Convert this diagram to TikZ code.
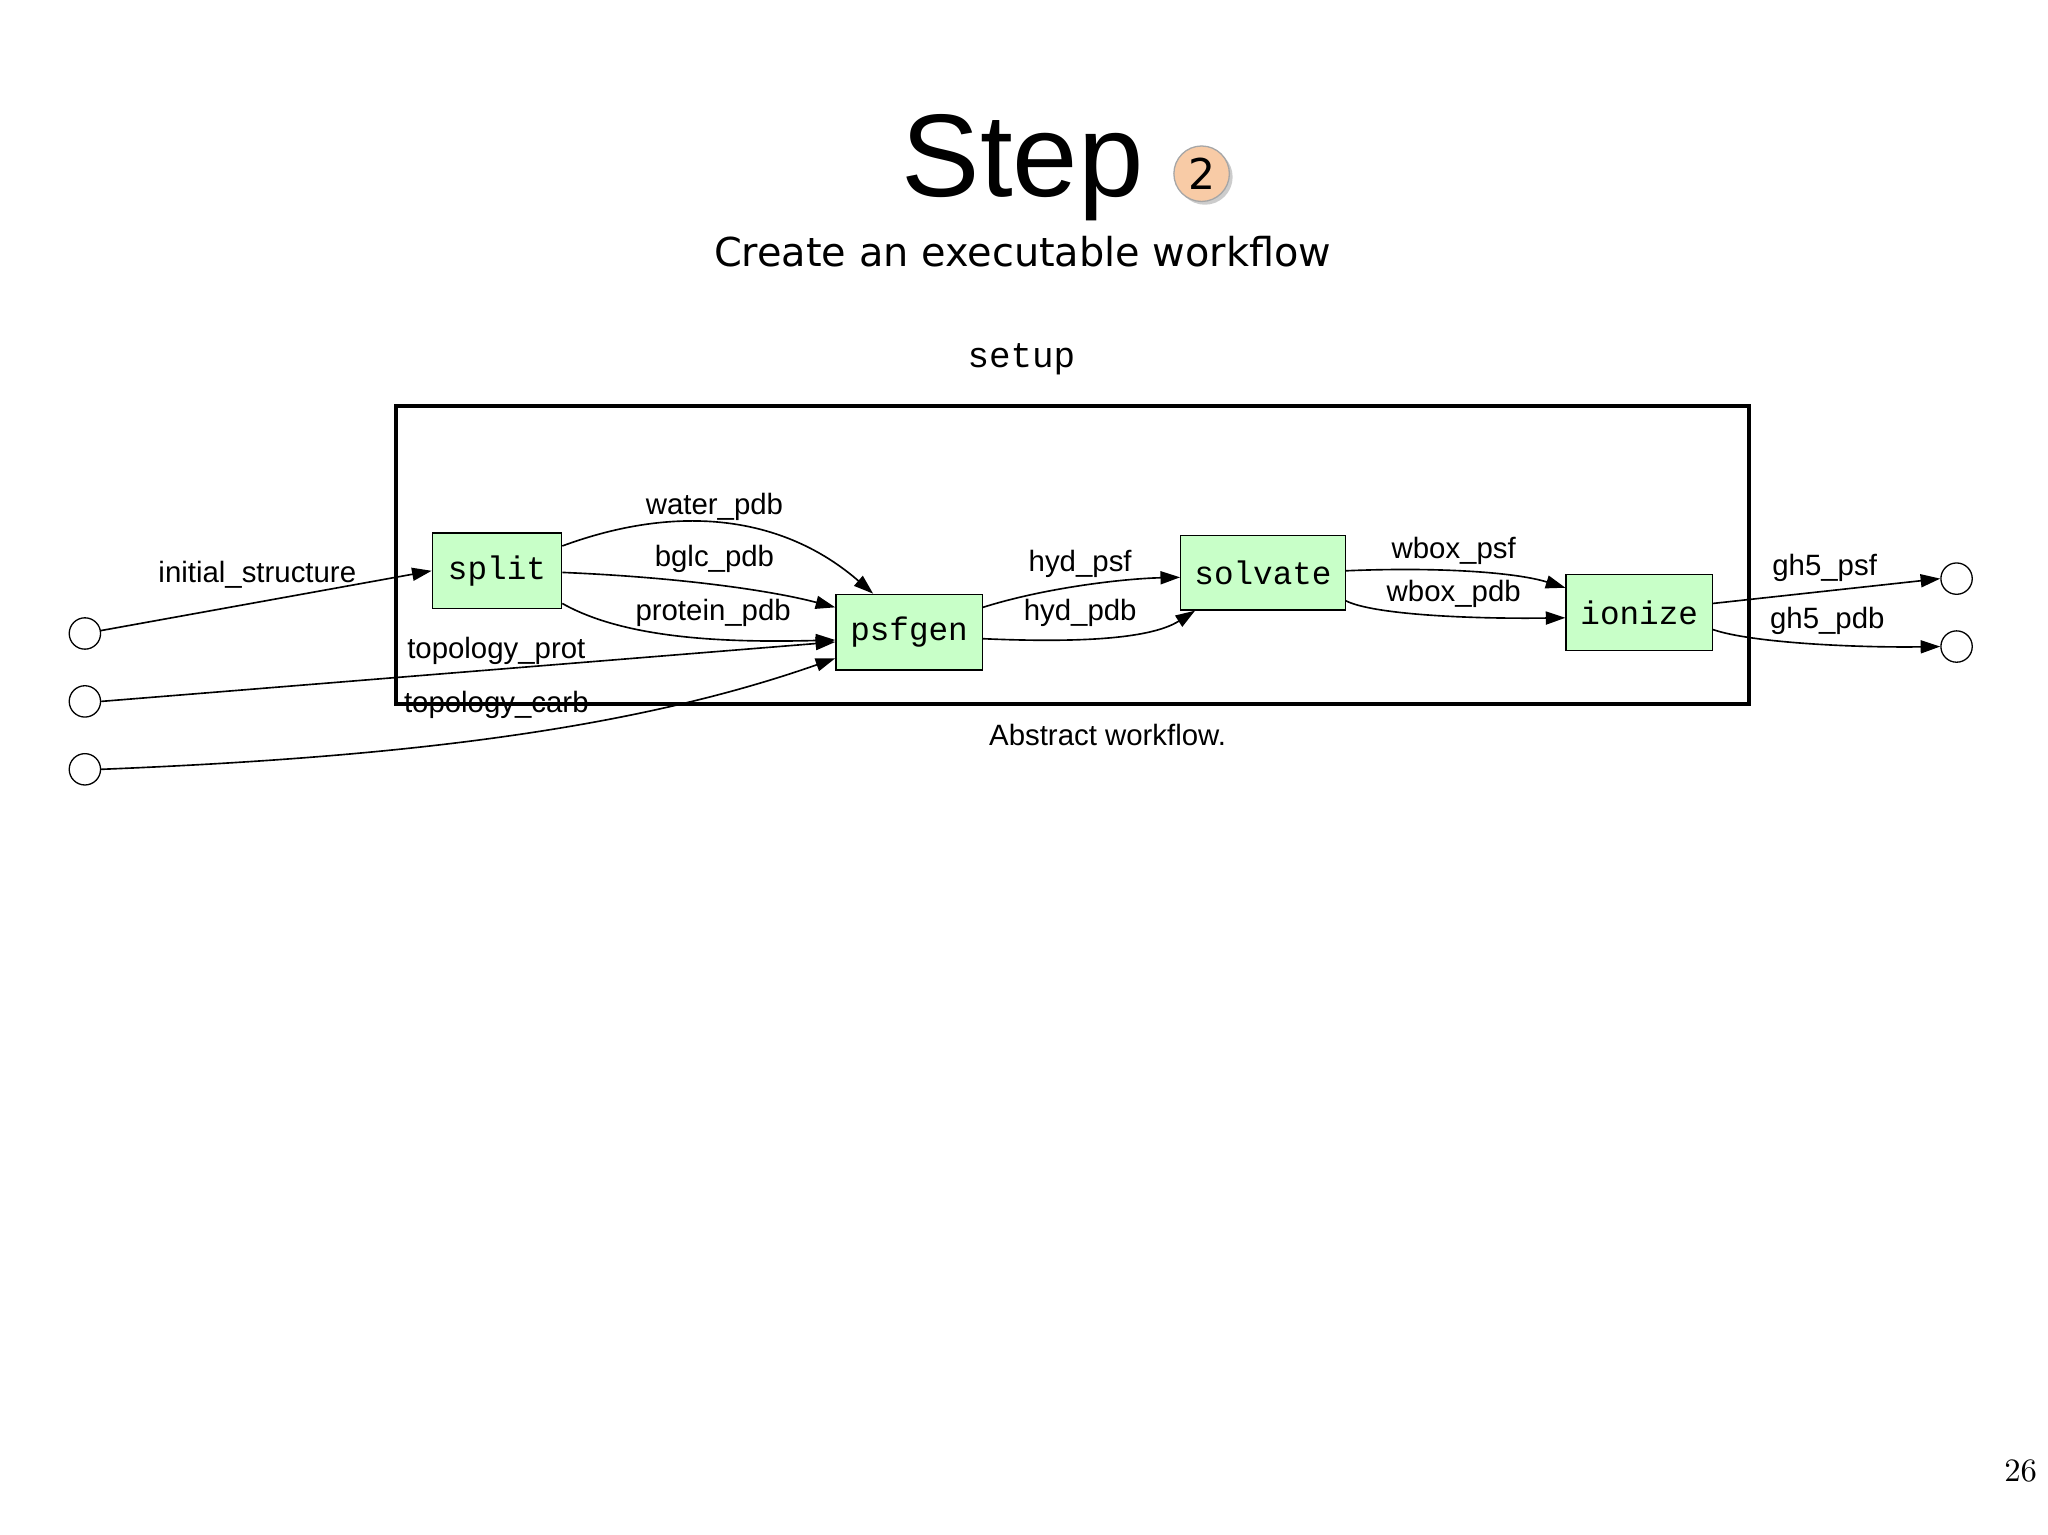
\documentclass[tikz,border=0pt]{standalone}
\usepackage{fontspec}
\setmainfont{Liberation Sans}
\newfontfamily\dejavu{DejaVu Sans}
\newfontfamily\cour{Liberation Mono}
\newfontfamily\lmserif{Latin Modern Roman}
\usetikzlibrary{arrows.meta,shadows}
\definecolor{boxgreen}{HTML}{C8FFC8}
\definecolor{peach}{HTML}{F8CBA6}
\tikzset{
  proc/.style={draw,fill=boxgreen,font=\cour\fontsize{10}{12}\selectfont,inner sep=0pt},
  port/.style={draw,circle,minimum size=9.6pt,inner sep=0pt,fill=white},
  edge/.style={-{Triangle[length=6pt,width=4pt]},line width=0.5pt},
  lbl/.style={font=\fontsize{9}{11}\selectfont,inner sep=0pt}
}
\begin{document}
\begin{tikzpicture}[x=0.4pt,y=-0.4pt]
\useasboundingbox (0,0) rectangle (1568,1175);
\node[font=\fontsize{36}{40}\selectfont] (title) at (783,128) {Step};
\node[circle,draw=gray!70,fill=peach,minimum size=17pt,inner sep=0pt,drop shadow={shadow xshift=1pt,shadow yshift=-1pt,opacity=0.4},font=\dejavu\fontsize{13}{14}\selectfont] (badge) at (920,133) {2};
\node[font=\dejavu\fontsize{12.2}{14}\selectfont] (sub) at (783,193) {Create an executable workflow};
\node[font=\cour\fontsize{11}{13}\selectfont] (setup) at (782,275) {setup};
\draw[line width=1.1pt] (303,311) rectangle (1339,539);
\node[proc,minimum width=39.6pt,minimum height=23.2pt] (split) at (380.5,437) {split};
\node[proc,minimum width=44.8pt,minimum height=23.2pt] (psfgen) at (696,484) {psfgen};
\node[proc,minimum width=50.4pt,minimum height=22.8pt] (solvate) at (967,438.5) {solvate};
\node[proc,minimum width=44.8pt,minimum height=23.2pt] (ionize) at (1255,469) {ionize};
\node[port] (in1) at (65,485) {};
\node[port] (in2) at (65,537) {};
\node[port] (in3) at (65,589) {};
\node[port] (out1) at (1498,443) {};
\node[port] (out2) at (1498,495) {};
\draw[edge] (in1) -- (split.west);
\draw[edge] (in2.east) -- ([yshift=-3pt]psfgen.west);
\draw[edge] (in3.east) .. controls (300,580) and (480,560) .. ([yshift=-8pt]psfgen.west);
\draw[edge] ([yshift=7.6pt]split.east) .. controls (520,385) and (600,395) .. ([xshift=-11pt]psfgen.north);
\draw[edge] ([yshift=-0.5pt]split.east) .. controls (520,442) and (590,452) .. ([yshift=7.6pt]psfgen.west);
\draw[edge] ([yshift=-10pt]split.east) .. controls (480,490) and (560,492) .. ([yshift=-2.4pt]psfgen.west);
\draw[edge] ([yshift=7.6pt]psfgen.east) .. controls (800,450) and (860,443) .. ([yshift=-1.4pt]solvate.west);
\draw[edge] ([yshift=-2pt]psfgen.east) .. controls (820,492) and (880,490) .. ([xshift=-20.8pt]solvate.south);
\draw[edge] ([yshift=0.6pt]solvate.east) .. controls (1100,434) and (1160,438) .. ([yshift=7.6pt]ionize.west);
\draw[edge] ([yshift=-8.6pt]solvate.east) .. controls (1050,470) and (1120,474) .. ([yshift=-1.6pt]ionize.west);
\draw[edge] ([yshift=2.8pt]ionize.east) -- (out1.west);
\draw[edge] ([yshift=-5.2pt]ionize.east) .. controls (1340,492) and (1420,496) .. (out2.west);
\node[lbl] (l1) at (197,440) {initial\_structure};
\node[lbl] (l2) at (380,498) {topology\_prot};
\node[lbl] (l3) at (380,540) {topology\_carb};
\node[lbl] (l4) at (547,388) {water\_pdb};
\node[lbl] (l5) at (547,428) {bglc\_pdb};
\node[lbl] (l6) at (546,469) {protein\_pdb};
\node[lbl] (l7) at (827,432) {hyd\_psf};
\node[lbl] (l8) at (827,469) {hyd\_pdb};
\node[lbl] (l9) at (1113,422) {wbox\_psf};
\node[lbl] (l10) at (1113,455) {wbox\_pdb};
\node[lbl] (l11) at (1397,435) {gh5\_psf};
\node[lbl] (l12) at (1399,475) {gh5\_pdb};
\node[font=\fontsize{9}{11}\selectfont] (cap) at (848,563) {Abstract workflow.};
\node[font=\lmserif\fontsize{10}{12}\selectfont] (pg) at (1547,1126) {26};
\end{tikzpicture}
\end{document}
